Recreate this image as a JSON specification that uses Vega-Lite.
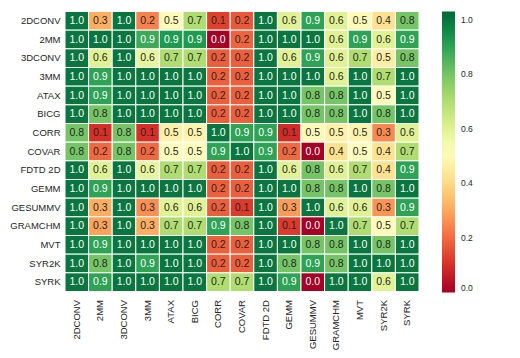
{
  "$schema": "https://vega.github.io/schema/vega-lite/v6.json",
  "width": 354,
  "height": 280,
  "autosize": {"type": "none"},
  "padding": {"left": 65, "top": 11.5, "right": 101, "bottom": 66.5},
  "background": "white",
  "config": {
    "view": {"stroke": null},
    "font": "Liberation Sans",
    "axis": {"labelFont": "Liberation Sans", "labelColor": "#262626", "labelFontSize": 9.5, "ticks": false, "domain": false, "grid": false, "title": null}
  },
  "data": {"values": [
{"r":"2DCONV","c":"2DCONV","v":1.0},{"r":"2DCONV","c":"2MM","v":0.31},{"r":"2DCONV","c":"3DCONV","v":1.0},{"r":"2DCONV","c":"3MM","v":0.24},{"r":"2DCONV","c":"ATAX","v":0.5},{"r":"2DCONV","c":"BICG","v":0.7},{"r":"2DCONV","c":"CORR","v":0.13},{"r":"2DCONV","c":"COVAR","v":0.17},{"r":"2DCONV","c":"FDTD 2D","v":1.0},{"r":"2DCONV","c":"GEMM","v":0.6},{"r":"2DCONV","c":"GESUMMV","v":0.9},{"r":"2DCONV","c":"GRAMCHM","v":0.6},{"r":"2DCONV","c":"MVT","v":0.5},{"r":"2DCONV","c":"SYR2K","v":0.42},{"r":"2DCONV","c":"SYRK","v":0.8},
{"r":"2MM","c":"2DCONV","v":1.0},{"r":"2MM","c":"2MM","v":1.0},{"r":"2MM","c":"3DCONV","v":1.0},{"r":"2MM","c":"3MM","v":0.88},{"r":"2MM","c":"ATAX","v":0.92},{"r":"2MM","c":"BICG","v":0.92},{"r":"2MM","c":"CORR","v":0.0},{"r":"2MM","c":"COVAR","v":0.19},{"r":"2MM","c":"FDTD 2D","v":1.0},{"r":"2MM","c":"GEMM","v":1.0},{"r":"2MM","c":"GESUMMV","v":1.0},{"r":"2MM","c":"GRAMCHM","v":0.6},{"r":"2MM","c":"MVT","v":0.9},{"r":"2MM","c":"SYR2K","v":0.6},{"r":"2MM","c":"SYRK","v":0.9},
{"r":"3DCONV","c":"2DCONV","v":1.0},{"r":"3DCONV","c":"2MM","v":0.6},{"r":"3DCONV","c":"3DCONV","v":1.0},{"r":"3DCONV","c":"3MM","v":0.58},{"r":"3DCONV","c":"ATAX","v":0.7},{"r":"3DCONV","c":"BICG","v":0.7},{"r":"3DCONV","c":"CORR","v":0.18},{"r":"3DCONV","c":"COVAR","v":0.18},{"r":"3DCONV","c":"FDTD 2D","v":1.0},{"r":"3DCONV","c":"GEMM","v":0.6},{"r":"3DCONV","c":"GESUMMV","v":0.9},{"r":"3DCONV","c":"GRAMCHM","v":0.6},{"r":"3DCONV","c":"MVT","v":0.7},{"r":"3DCONV","c":"SYR2K","v":0.46},{"r":"3DCONV","c":"SYRK","v":0.8},
{"r":"3MM","c":"2DCONV","v":1.0},{"r":"3MM","c":"2MM","v":0.9},{"r":"3MM","c":"3DCONV","v":1.0},{"r":"3MM","c":"3MM","v":1.0},{"r":"3MM","c":"ATAX","v":1.0},{"r":"3MM","c":"BICG","v":1.0},{"r":"3MM","c":"CORR","v":0.18},{"r":"3MM","c":"COVAR","v":0.18},{"r":"3MM","c":"FDTD 2D","v":1.0},{"r":"3MM","c":"GEMM","v":1.0},{"r":"3MM","c":"GESUMMV","v":1.0},{"r":"3MM","c":"GRAMCHM","v":0.6},{"r":"3MM","c":"MVT","v":1.0},{"r":"3MM","c":"SYR2K","v":0.7},{"r":"3MM","c":"SYRK","v":1.0},
{"r":"ATAX","c":"2DCONV","v":1.0},{"r":"ATAX","c":"2MM","v":0.9},{"r":"ATAX","c":"3DCONV","v":1.0},{"r":"ATAX","c":"3MM","v":1.0},{"r":"ATAX","c":"ATAX","v":1.0},{"r":"ATAX","c":"BICG","v":1.0},{"r":"ATAX","c":"CORR","v":0.18},{"r":"ATAX","c":"COVAR","v":0.18},{"r":"ATAX","c":"FDTD 2D","v":1.0},{"r":"ATAX","c":"GEMM","v":1.0},{"r":"ATAX","c":"GESUMMV","v":0.8},{"r":"ATAX","c":"GRAMCHM","v":0.8},{"r":"ATAX","c":"MVT","v":1.0},{"r":"ATAX","c":"SYR2K","v":0.5},{"r":"ATAX","c":"SYRK","v":1.0},
{"r":"BICG","c":"2DCONV","v":1.0},{"r":"BICG","c":"2MM","v":0.8},{"r":"BICG","c":"3DCONV","v":1.0},{"r":"BICG","c":"3MM","v":1.0},{"r":"BICG","c":"ATAX","v":1.0},{"r":"BICG","c":"BICG","v":1.0},{"r":"BICG","c":"CORR","v":0.18},{"r":"BICG","c":"COVAR","v":0.18},{"r":"BICG","c":"FDTD 2D","v":1.0},{"r":"BICG","c":"GEMM","v":1.0},{"r":"BICG","c":"GESUMMV","v":0.8},{"r":"BICG","c":"GRAMCHM","v":0.8},{"r":"BICG","c":"MVT","v":1.0},{"r":"BICG","c":"SYR2K","v":0.8},{"r":"BICG","c":"SYRK","v":1.0},
{"r":"CORR","c":"2DCONV","v":0.8},{"r":"CORR","c":"2MM","v":0.1},{"r":"CORR","c":"3DCONV","v":0.8},{"r":"CORR","c":"3MM","v":0.1},{"r":"CORR","c":"ATAX","v":0.47},{"r":"CORR","c":"BICG","v":0.48},{"r":"CORR","c":"CORR","v":1.0},{"r":"CORR","c":"COVAR","v":0.9},{"r":"CORR","c":"FDTD 2D","v":0.9},{"r":"CORR","c":"GEMM","v":0.09},{"r":"CORR","c":"GESUMMV","v":0.5},{"r":"CORR","c":"GRAMCHM","v":0.47},{"r":"CORR","c":"MVT","v":0.48},{"r":"CORR","c":"SYR2K","v":0.25},{"r":"CORR","c":"SYRK","v":0.6},
{"r":"COVAR","c":"2DCONV","v":0.8},{"r":"COVAR","c":"2MM","v":0.2},{"r":"COVAR","c":"3DCONV","v":0.8},{"r":"COVAR","c":"3MM","v":0.2},{"r":"COVAR","c":"ATAX","v":0.52},{"r":"COVAR","c":"BICG","v":0.52},{"r":"COVAR","c":"CORR","v":0.9},{"r":"COVAR","c":"COVAR","v":1.0},{"r":"COVAR","c":"FDTD 2D","v":0.9},{"r":"COVAR","c":"GEMM","v":0.2},{"r":"COVAR","c":"GESUMMV","v":0.0},{"r":"COVAR","c":"GRAMCHM","v":0.42},{"r":"COVAR","c":"MVT","v":0.52},{"r":"COVAR","c":"SYR2K","v":0.42},{"r":"COVAR","c":"SYRK","v":0.7},
{"r":"FDTD 2D","c":"2DCONV","v":1.0},{"r":"FDTD 2D","c":"2MM","v":0.6},{"r":"FDTD 2D","c":"3DCONV","v":1.0},{"r":"FDTD 2D","c":"3MM","v":0.58},{"r":"FDTD 2D","c":"ATAX","v":0.7},{"r":"FDTD 2D","c":"BICG","v":0.7},{"r":"FDTD 2D","c":"CORR","v":0.18},{"r":"FDTD 2D","c":"COVAR","v":0.18},{"r":"FDTD 2D","c":"FDTD 2D","v":1.0},{"r":"FDTD 2D","c":"GEMM","v":0.6},{"r":"FDTD 2D","c":"GESUMMV","v":0.8},{"r":"FDTD 2D","c":"GRAMCHM","v":0.6},{"r":"FDTD 2D","c":"MVT","v":0.7},{"r":"FDTD 2D","c":"SYR2K","v":0.42},{"r":"FDTD 2D","c":"SYRK","v":0.9},
{"r":"GEMM","c":"2DCONV","v":1.0},{"r":"GEMM","c":"2MM","v":0.9},{"r":"GEMM","c":"3DCONV","v":1.0},{"r":"GEMM","c":"3MM","v":1.0},{"r":"GEMM","c":"ATAX","v":1.0},{"r":"GEMM","c":"BICG","v":1.0},{"r":"GEMM","c":"CORR","v":0.18},{"r":"GEMM","c":"COVAR","v":0.18},{"r":"GEMM","c":"FDTD 2D","v":1.0},{"r":"GEMM","c":"GEMM","v":1.0},{"r":"GEMM","c":"GESUMMV","v":0.8},{"r":"GEMM","c":"GRAMCHM","v":0.8},{"r":"GEMM","c":"MVT","v":1.0},{"r":"GEMM","c":"SYR2K","v":0.8},{"r":"GEMM","c":"SYRK","v":1.0},
{"r":"GESUMMV","c":"2DCONV","v":1.0},{"r":"GESUMMV","c":"2MM","v":0.31},{"r":"GESUMMV","c":"3DCONV","v":1.0},{"r":"GESUMMV","c":"3MM","v":0.26},{"r":"GESUMMV","c":"ATAX","v":0.6},{"r":"GESUMMV","c":"BICG","v":0.6},{"r":"GESUMMV","c":"CORR","v":0.18},{"r":"GESUMMV","c":"COVAR","v":0.12},{"r":"GESUMMV","c":"FDTD 2D","v":1.0},{"r":"GESUMMV","c":"GEMM","v":0.28},{"r":"GESUMMV","c":"GESUMMV","v":1.0},{"r":"GESUMMV","c":"GRAMCHM","v":0.6},{"r":"GESUMMV","c":"MVT","v":0.6},{"r":"GESUMMV","c":"SYR2K","v":0.27},{"r":"GESUMMV","c":"SYRK","v":0.9},
{"r":"GRAMCHM","c":"2DCONV","v":1.0},{"r":"GRAMCHM","c":"2MM","v":0.29},{"r":"GRAMCHM","c":"3DCONV","v":1.0},{"r":"GRAMCHM","c":"3MM","v":0.31},{"r":"GRAMCHM","c":"ATAX","v":0.7},{"r":"GRAMCHM","c":"BICG","v":0.7},{"r":"GRAMCHM","c":"CORR","v":0.9},{"r":"GRAMCHM","c":"COVAR","v":0.8},{"r":"GRAMCHM","c":"FDTD 2D","v":1.0},{"r":"GRAMCHM","c":"GEMM","v":0.12},{"r":"GRAMCHM","c":"GESUMMV","v":0.0},{"r":"GRAMCHM","c":"GRAMCHM","v":1.0},{"r":"GRAMCHM","c":"MVT","v":0.7},{"r":"GRAMCHM","c":"SYR2K","v":0.5},{"r":"GRAMCHM","c":"SYRK","v":0.7},
{"r":"MVT","c":"2DCONV","v":1.0},{"r":"MVT","c":"2MM","v":0.9},{"r":"MVT","c":"3DCONV","v":1.0},{"r":"MVT","c":"3MM","v":1.0},{"r":"MVT","c":"ATAX","v":1.0},{"r":"MVT","c":"BICG","v":1.0},{"r":"MVT","c":"CORR","v":0.18},{"r":"MVT","c":"COVAR","v":0.18},{"r":"MVT","c":"FDTD 2D","v":1.0},{"r":"MVT","c":"GEMM","v":1.0},{"r":"MVT","c":"GESUMMV","v":0.8},{"r":"MVT","c":"GRAMCHM","v":0.8},{"r":"MVT","c":"MVT","v":1.0},{"r":"MVT","c":"SYR2K","v":0.8},{"r":"MVT","c":"SYRK","v":1.0},
{"r":"SYR2K","c":"2DCONV","v":1.0},{"r":"SYR2K","c":"2MM","v":0.8},{"r":"SYR2K","c":"3DCONV","v":1.0},{"r":"SYR2K","c":"3MM","v":0.9},{"r":"SYR2K","c":"ATAX","v":1.0},{"r":"SYR2K","c":"BICG","v":1.0},{"r":"SYR2K","c":"CORR","v":0.18},{"r":"SYR2K","c":"COVAR","v":0.18},{"r":"SYR2K","c":"FDTD 2D","v":1.0},{"r":"SYR2K","c":"GEMM","v":0.8},{"r":"SYR2K","c":"GESUMMV","v":0.9},{"r":"SYR2K","c":"GRAMCHM","v":0.8},{"r":"SYR2K","c":"MVT","v":1.0},{"r":"SYR2K","c":"SYR2K","v":1.0},{"r":"SYR2K","c":"SYRK","v":1.0},
{"r":"SYRK","c":"2DCONV","v":1.0},{"r":"SYRK","c":"2MM","v":0.9},{"r":"SYRK","c":"3DCONV","v":1.0},{"r":"SYRK","c":"3MM","v":1.0},{"r":"SYRK","c":"ATAX","v":1.0},{"r":"SYRK","c":"BICG","v":1.0},{"r":"SYRK","c":"CORR","v":0.7},{"r":"SYRK","c":"COVAR","v":0.7},{"r":"SYRK","c":"FDTD 2D","v":1.0},{"r":"SYRK","c":"GEMM","v":0.9},{"r":"SYRK","c":"GESUMMV","v":0.0},{"r":"SYRK","c":"GRAMCHM","v":1.0},{"r":"SYRK","c":"MVT","v":1.0},{"r":"SYRK","c":"SYR2K","v":0.6},{"r":"SYRK","c":"SYRK","v":1.0}
  ]},
  "encoding": {
    "x": {"field": "c", "type": "nominal", "sort": ["2DCONV","2MM","3DCONV","3MM","ATAX","BICG","CORR","COVAR","FDTD 2D","GEMM","GESUMMV","GRAMCHM","MVT","SYR2K","SYRK"], "scale": {"paddingInner": 0, "paddingOuter": 0}, "axis": {"labelAngle": -90, "labelPadding": 8}},
    "y": {"field": "r", "type": "nominal", "sort": ["2DCONV","2MM","3DCONV","3MM","ATAX","BICG","CORR","COVAR","FDTD 2D","GEMM","GESUMMV","GRAMCHM","MVT","SYR2K","SYRK"], "scale": {"paddingInner": 0, "paddingOuter": 0}, "axis": {"labelPadding": 5}}
  },
  "layer": [
    {
      "mark": {"type": "rect", "stroke": "white", "strokeWidth": 1},
      "encoding": {
        "color": {
          "field": "v", "type": "quantitative",
          "scale": {
            "domain": [0, 0.103, 0.206, 0.309, 0.412, 0.515, 0.618, 0.721, 0.824, 0.927, 1.03],
            "range": ["#a50026", "#d73027", "#f46d43", "#fdae61", "#fee08b", "#ffffbf", "#d9ef8b", "#a6d96a", "#66bd63", "#1a9850", "#006837"],
            "interpolate": "rgb"
          },
          "legend": {
            "title": null, "orient": "none", "legendX": 377, "legendY": 0, "direction": "vertical",
            "gradientLength": 281, "gradientThickness": 13, "gradientStrokeWidth": 0,
            "values": [0, 0.2, 0.4, 0.6, 0.8, 1.0], "format": ".1f",
            "labelFont": "Liberation Sans", "labelFontSize": 8.5, "labelColor": "#262626", "labelOffset": 6
          }
        }
      }
    },
    {
      "mark": {"type": "text", "font": "Liberation Sans", "fontSize": 10.5},
      "encoding": {
        "text": {"field": "v", "type": "quantitative", "format": ".1f"},
        "color": {"condition": {"test": "datum.v >= 0.85 || datum.v < 0.05", "value": "white"}, "value": "#262626"}
      }
    }
  ]
}
